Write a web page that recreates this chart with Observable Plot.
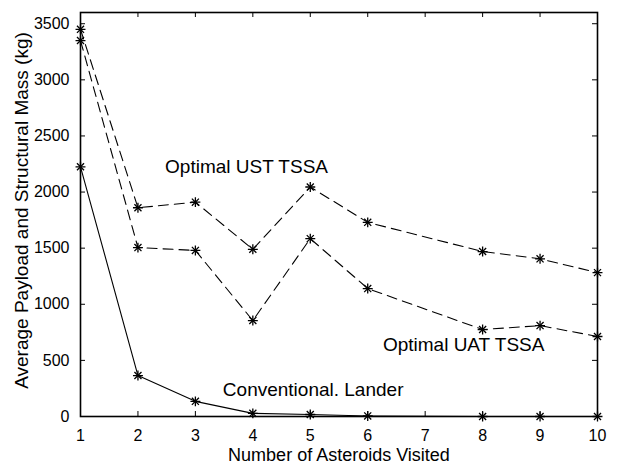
<!DOCTYPE html>
<html>
<head>
<meta charset="utf-8">
<script src="https://cdn.jsdelivr.net/npm/d3@7"></script>
<script src="https://cdn.jsdelivr.net/npm/@observablehq/plot@0.6"></script>
<style>
  html, body { margin: 0; padding: 0; background: #fff; }
</style>
</head>
<body>
<div id="chart"></div>
<script>
// Data
const asteroids    = [1, 2, 3, 4, 5, 6, 8, 9, 10];
const ustTSSA      = [3450, 1860, 1910, 1490, 2045, 1730, 1470, 1405, 1282];
const uatTSSA      = [3350, 1505, 1480, 855, 1585, 1140, 775, 810, 713];
const conventional = [2225, 365, 135, 28, 18, 5, 0, 0, 0];

const xTicks = [1, 2, 3, 4, 5, 6, 7, 8, 9, 10];
const yTicks = [0, 500, 1000, 1500, 2000, 2500, 3000, 3500];

const labelText = ["Optimal UST TSSA", "Optimal UAT TSSA", "Conventional. Lander"];
const labelX = [3.89, 7.67, 5.05];
const labelY = [2223, 635, 238];

const xTitle = "Number of Asteroids Visited";
const yTitle = "Average Payload and Structural Mass (kg)";

const toRows = (vals, name) => asteroids.map((a, i) => ({x: a, y: vals[i], series: name}));
const ust = toRows(ustTSSA, "UST");
const uat = toRows(uatTSSA, "UAT");
const conv = toRows(conventional, "Conv");
const allPts = [...ust, ...uat, ...conv];
const labels = labelText.map((t, i) => ({text: t, x: labelX[i], y: labelY[i]}));

const W = 620, H = 464;
const mL = 80, mR = 23, mT = 12, mB = 48;
const plotW = W - mL - mR, plotH = H - mT - mB;
const tick = 5;

const chart = Plot.plot({
  width: W,
  height: H,
  marginLeft: mL,
  marginRight: mR,
  marginTop: mT,
  marginBottom: mB,
  x: {domain: [1, 10], axis: null},
  y: {domain: [0, 3600], axis: null},
  style: {
    fontFamily: "'Liberation Sans', Arial, Helvetica, sans-serif",
    fontSize: "16px",
    color: "black",
    background: "white",
    overflow: "visible"
  },
  marks: [
    // tick labels
    Plot.text(xTicks, {x: d => d, frameAnchor: "bottom", dy: 13, text: d => String(d), fontSize: 16, lineAnchor: "top", textAnchor: "middle", fill: "black"}),
    Plot.text(yTicks, {y: d => d, frameAnchor: "left", dx: -11, text: d => String(d), fontSize: 16, lineAnchor: "middle", textAnchor: "end", fill: "black"}),
    // inward ticks on all four sides
    Plot.tickX(xTicks, {x: d => d, insetTop: plotH - tick, stroke: "black", strokeWidth: 1}),
    Plot.tickX(xTicks, {x: d => d, insetBottom: plotH - tick, stroke: "black", strokeWidth: 1}),
    Plot.tickY(yTicks, {y: d => d, insetRight: plotW - tick, stroke: "black", strokeWidth: 1}),
    Plot.tickY(yTicks, {y: d => d, insetLeft: plotW - tick, stroke: "black", strokeWidth: 1}),
    // series lines
    Plot.line(ust, {x: "x", y: "y", stroke: "black", strokeWidth: 1.1, strokeDasharray: "10,6"}),
    Plot.line(uat, {x: "x", y: "y", stroke: "black", strokeWidth: 1.1, strokeDasharray: "10,6"}),
    Plot.line(conv, {x: "x", y: "y", stroke: "black", strokeWidth: 1.1}),
    // asterisk markers (plus + times)
    Plot.dot(allPts, {x: "x", y: "y", symbol: "plus", r: 3.3, stroke: "black", strokeWidth: 1.3}),
    Plot.dot(allPts, {x: "x", y: "y", symbol: "times", r: 3.3, stroke: "black", strokeWidth: 1.3}),
    // frame
    Plot.frame({stroke: "black", strokeWidth: 1.6}),
    // annotations
    Plot.text(labels, {x: "x", y: "y", text: "text", fontSize: 19, textAnchor: "middle", lineAnchor: "middle", fill: "black"}),
    // axis titles
    Plot.text([xTitle], {frameAnchor: "bottom", dy: 39, text: d => d, fontSize: 18, textAnchor: "middle", lineAnchor: "middle", fill: "black"}),
    Plot.text([yTitle], {frameAnchor: "left", dx: -59, dy: -4, rotate: -90, text: d => d, fontSize: 19, textAnchor: "middle", lineAnchor: "middle", fill: "black"})
  ]
});

document.getElementById("chart").appendChild(chart);
</script>
</body>
</html>
